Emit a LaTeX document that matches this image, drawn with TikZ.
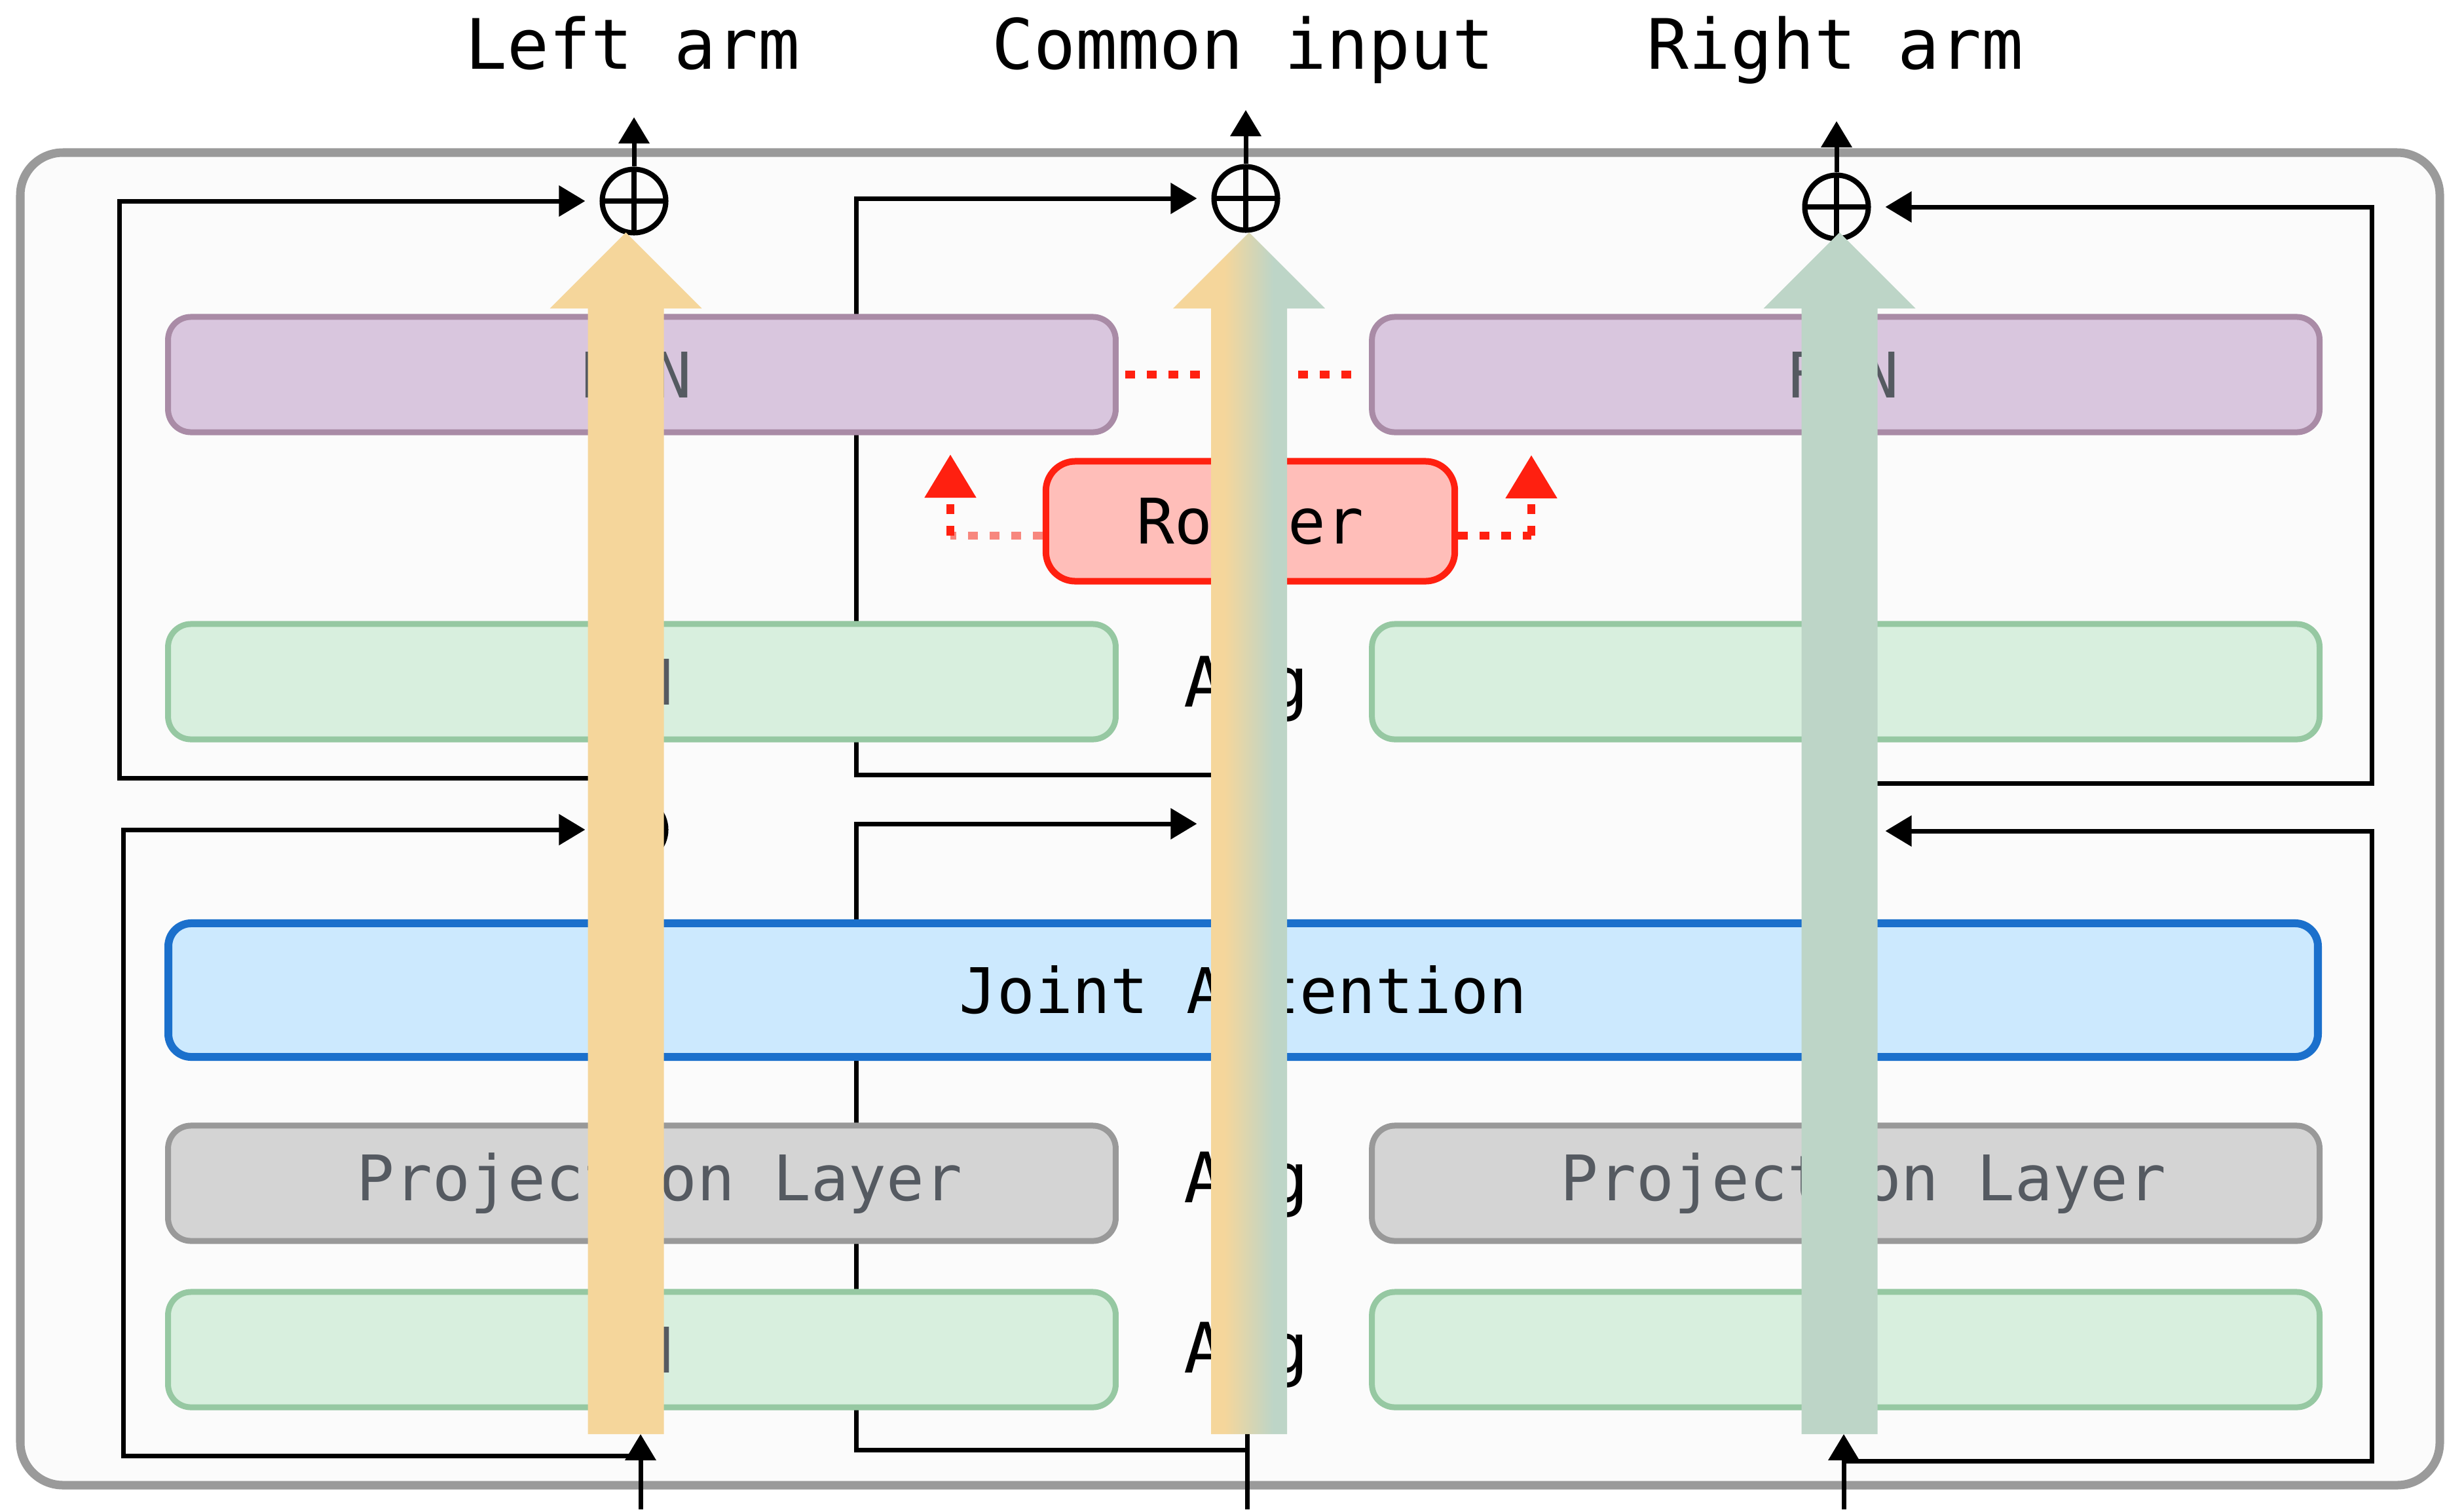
\documentclass[tikz,border=0pt]{standalone}
\usepackage{fontspec}
\setmonofont{DejaVu Sans Mono}
\usepackage{xcolor}
\usepackage{tikz}
\usetikzlibrary{positioning,arrows.meta}

\definecolor{frameedge}{HTML}{9A9A9A}
\definecolor{framefill}{HTML}{FBFBFB}
\definecolor{ffnfill}{HTML}{D9C6DE}
\definecolor{ffnedge}{HTML}{A98BA6}
\definecolor{lnfill}{HTML}{D8EFDE}
\definecolor{lnedge}{HTML}{96C8A2}
\definecolor{projfill}{HTML}{D4D4D4}
\definecolor{projedge}{HTML}{999999}
\definecolor{attnfill}{HTML}{CCE9FE}
\definecolor{attnedge}{HTML}{1B70CC}
\definecolor{routerfill}{HTML}{FFBEB9}
\definecolor{routeredge}{HTML}{FF2010}
\definecolor{routefade}{HTML}{F7877E}
\definecolor{armyellow}{HTML}{F5D69B}
\definecolor{armgreen}{HTML}{BDD5C7}
\definecolor{boxtext}{HTML}{555A61}

\pgfdeclarehorizontalshading{armmix}{100bp}{color(0bp)=(armyellow); color(42bp)=(armyellow); color(58bp)=(armgreen); color(100bp)=(armgreen)}

\begin{document}
\begin{tikzpicture}[x=0.01cm, y=-0.01cm,
    block/.style={draw, rounded corners=0.35cm, line width=0.09cm,
      minimum width=14.46cm, minimum height=1.76cm, inner sep=0pt,
      font=\ttfamily\fontsize{27.3}{30}\selectfont, text=boxtext},
    ffnbox/.style={block, draw=ffnedge, fill=ffnfill},
    lnbox/.style={block, draw=lnedge, fill=lnfill},
    projbox/.style={block, draw=projedge, fill=projfill},
    attnbox/.style={block, draw=attnedge, fill=attnfill, line width=0.12cm,
      minimum width=32.8cm, minimum height=2.04cm, text=black},
    routerbox/.style={block, draw=routeredge, fill=routerfill, line width=0.1cm,
      rounded corners=0.45cm, minimum width=6.24cm, minimum height=1.83cm, text=black},
    title/.style={anchor=base, font=\ttfamily\fontsize{30.2}{34}\selectfont},
    plus/.style={circle, draw, line width=0.08cm, minimum size=0.97cm, inner sep=0pt,
      path picture={\draw[line width=0.08cm]
        (path picture bounding box.north) -- (path picture bounding box.south)
        (path picture bounding box.west) -- (path picture bounding box.east);}},
    res/.style={line width=0.07cm, -{Triangle[length=0.4cm,width=0.46cm]}},
    skip/.style={res, shorten >=0.22cm},
    route/.style={draw=routeredge, line width=0.12cm, dash pattern=on 0.15cm off 0.18cm},
    routetip/.style={route, -{Triangle[length=0.66cm,width=0.76cm]}, routeredge},
    armL/.style={fill=armyellow},
    armM/.style={shade, shading=armmix},
    armR/.style={fill=armgreen}]

  % outer frame
  \draw[frameedge, fill=framefill, line width=0.13cm, rounded corners=0.65cm]
    (31,233) rectangle (3725,2268);

  % adders
  \node[plus] (sumL) at (968,307) {};
  \node[plus] (sumM) at (1902,303) {};
  \node[plus] (sumR) at (2804,316) {};
  \node[plus] (sumL2) at (968,1267) {};
  \node[plus] (sumM2) at (1902,1258) {};
  \node[plus] (sumR2) at (2804,1269) {};

  \coordinate (outL) at (968,179);
  \coordinate (outM) at (1902,168);
  \coordinate (outR) at (2804,185);
  \coordinate (tapL1) at (956,1188);
  \coordinate (tapM1) at (1907,1183);
  \coordinate (tapR1) at (2808,1196);
  \coordinate (tapL2) at (978,2223);
  \coordinate (tapM2) at (1904,2214);
  \coordinate (tapR2) at (2815,2231);
  \coordinate (inL) at (978,2305);
  \coordinate (inM) at (1904,2305);
  \coordinate (inR) at (2815,2305);
  \coordinate (baseL) at (978,2190);
  \coordinate (baseM) at (1904,2190);
  \coordinate (baseR) at (2815,2190);

  \draw[res] (sumL) -- (outL);
  \draw[res] (sumM) -- (outM);
  \draw[res] (sumR) -- (outR);

  % residual paths
  \draw[skip] (tapL1) -- (182,1188) |- (sumL);
  \draw[skip] (tapL2) -- (188,2223) |- (sumL2);
  \draw[skip] (tapM1) -- (1307,1183) |- (sumM);
  \draw[skip] (tapM2) -- (1307,2214) |- (sumM2);
  \draw[skip] (tapR1) -- (3621,1196) |- (sumR);
  \draw[skip] (tapR2) -- (3621,2231) |- (sumR2);
  \draw[res] (inL) -- (baseL);
  \draw[line width=0.07cm] (inM) -- (baseM);
  \draw[res] (inR) -- (baseR);

  % blocks
  \node[ffnbox] (ffnL) at (980,572) {FFN\hspace*{0.2cm}};
  \node[ffnbox, right=3.82cm of ffnL] (ffnR) {FFN\hspace*{0.1cm}};
  \node[lnbox] (lnL1) at (980,1041) {LN\hspace*{0.2cm}};
  \node[lnbox, right=3.82cm of lnL1] (lnR1) {};
  \node[attnbox] (attn) at (1898,1512) {Joint Attention};
  \node[projbox] (projL) at (980,1807) {\hspace*{0.54cm}Projection Layer};
  \node[projbox, right=3.82cm of projL] (projR) {\hspace*{0.54cm}Projection Layer};
  \node[lnbox] (lnL2) at (980,2061) {LN\hspace*{0.2cm}};
  \node[lnbox, right=3.82cm of lnL2] (lnR2) {};
  \node[routerbox] (router) at (1909,796) {Router};

  \node[title] (avg1) at (1903,1079) {Avg};
  \node[title] (avg2) at (1903,1836) {Avg};
  \node[title] (avg3) at (1903,2096) {Avg};

  % routing
  \coordinate (rtL) at (1451,818);
  \coordinate (rtR) at (2338,818);
  \coordinate (upL) at (1451,694);
  \coordinate (upR) at (2338,695);
  \draw[route, shorten <=0.1cm, shorten >=0.1cm] (ffnL.east) -- (ffnR.west);
  \draw[route, draw=routefade] (router.west |- rtL) -- (rtL);
  \draw[routetip] (rtL) -- (upL);
  \draw[route] (router.east |- rtR) -- (rtR);
  \draw[routetip] (rtR) -- (upR);

  % streams
  \foreach \cx/\sty in {955.5/armL, 1907/armM, 2808.5/armR}
    \path[\sty] (\cx-58,2190) -- (\cx-58,471) -- (\cx-116,471) -- (\cx,355)
      -- (\cx+116,471) -- (\cx+58,471) -- (\cx+58,2190) -- cycle;

  \node[title] (lblL) at (966,105) {Left arm};
  \node[title] (lblM) at (1898,105) {Common input};
  \node[title] (lblR) at (2802,105) {Right arm};

  \useasboundingbox (0,0) rectangle (3733,2305);
\end{tikzpicture}
\end{document}
